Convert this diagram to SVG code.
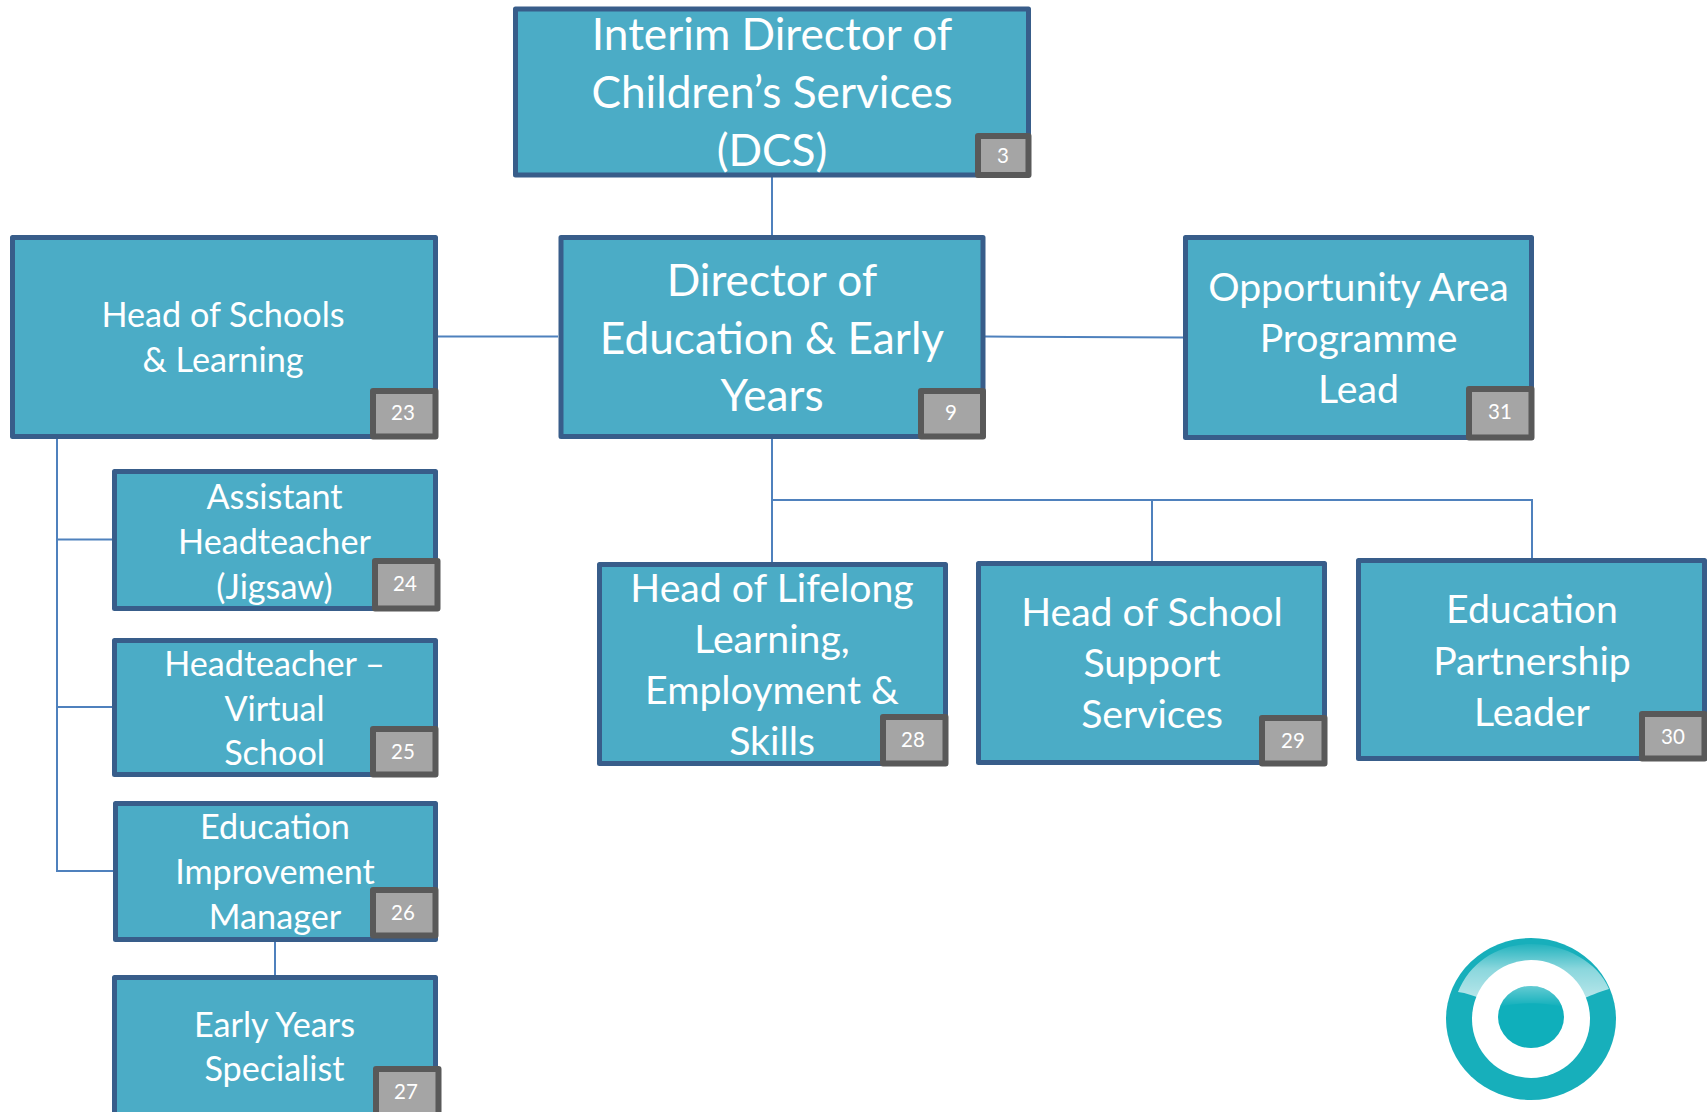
<svg xmlns="http://www.w3.org/2000/svg" width="1707" height="1112" viewBox="0 0 1707 1112">
<style>
.b{fill:#4bacc6;stroke:#385d8a;stroke-width:5;stroke-linejoin:round}
.g{fill:#a5a5a5;stroke:#595959;stroke-width:6;stroke-linejoin:round}
text{font-family:Lato,"Liberation Sans",sans-serif;fill:#fff;text-anchor:middle}
.xl{font-size:44.200px}.l{font-size:39.200px}.m{font-size:34.200px}.n{font-size:20.500px}
#connectors path{fill:none;stroke:#4f81bd;stroke-width:2}
</style>
<defs>
<linearGradient id="gloss" x1="0" y1="0" x2="0" y2="1"><stop offset="0" stop-color="#fff" stop-opacity=".05"/><stop offset=".45" stop-color="#fff" stop-opacity=".5"/><stop offset="1" stop-color="#fff" stop-opacity=".7"/></linearGradient>
<linearGradient id="gloss2" x1="0" y1="0" x2="0" y2="1"><stop offset="0" stop-color="#fff" stop-opacity=".35"/><stop offset="1" stop-color="#fff" stop-opacity="0"/></linearGradient>
</defs>
<rect width="1707" height="1112" fill="#fff"/>
<g id="connectors">
<path d="M772 177V235M772 439V562M772 500H1532V558M1152 500V561"/>
<path d="M438 336.500H558M985 336.500L1183 337.500"/>
<path d="M57 439V871H113M57 539.500H112M57 707H112M275 942V975"/>
</g>
<g id="n-dcs"><rect class="b" x="515.500" y="9" width="513" height="166"/>
<text class="xl" x="772" y="50">Interim Director of</text><text class="xl" x="772" y="108">Children’s Services</text><text class="xl" x="772" y="166">(DCS)</text>
<rect class="g" x="978" y="136" width="50.500" height="39"/><text class="n" x="1003" y="163">3</text></g>
<g id="n-director"><rect class="b" x="561" y="237.500" width="422" height="199"/>
<text class="xl" x="772" y="295.500">Director of</text><text class="xl" x="772" y="353.500">Education &amp; Early</text><text class="xl" x="772" y="410.500">Years</text>
<rect class="g" x="921" y="391" width="62" height="45.500"/><text class="n" x="951" y="420">9</text></g>
<g id="n-schools"><rect class="b" x="12.500" y="237.500" width="423" height="199"/>
<text class="m" x="223" y="327">Head of Schools</text><text class="m" x="223" y="372">&amp; Learning</text>
<rect class="g" x="373" y="391" width="62.500" height="45.500"/><text class="n" x="403" y="420">23</text></g>
<g id="n-opportunity"><rect class="b" x="1185.500" y="237.500" width="346" height="200"/>
<text class="l" x="1358.500" y="301">Opportunity Area</text><text class="l" x="1358.500" y="352">Programme</text><text class="l" x="1358.500" y="403">Lead</text>
<rect class="g" x="1469" y="389" width="62.500" height="48.500"/><text class="n" x="1500" y="419">31</text></g>
<g id="n-assistant"><rect class="b" x="114.500" y="471.500" width="321" height="137"/>
<text class="m" x="274.500" y="508.500">Assistant</text><text class="m" x="274.500" y="553.500">Headteacher</text><text class="m" x="274.500" y="598.500">(Jigsaw)</text>
<rect class="g" x="375" y="561" width="62.500" height="47.500"/><text class="n" x="405" y="591">24</text></g>
<g id="n-virtual"><rect class="b" x="114.500" y="640.500" width="321" height="134"/>
<text class="m" x="274.500" y="675.500">Headteacher –</text><text class="m" x="274.500" y="720.500">Virtual</text><text class="m" x="274.500" y="765">School</text>
<rect class="g" x="373" y="729" width="62.500" height="45.500"/><text class="n" x="403" y="759">25</text></g>
<g id="n-improvement"><rect class="b" x="115.500" y="803.500" width="320" height="136"/>
<text class="m" x="275" y="839">Education</text><text class="m" x="275" y="884">Improvement</text><text class="m" x="275" y="929">Manager</text>
<rect class="g" x="373" y="890" width="62.500" height="45.500"/><text class="n" x="403" y="920">26</text></g>
<g id="n-early"><rect class="b" x="114.500" y="977.500" width="321" height="150"/>
<text class="m" x="274.500" y="1037">Early Years</text><text class="m" x="274.500" y="1081">Specialist</text>
<rect class="g" x="376" y="1069" width="62.500" height="60"/><text class="n" x="406" y="1099">27</text></g>
<g id="n-lifelong"><rect class="b" x="599.500" y="564.500" width="346" height="199"/>
<text class="l" x="772" y="602">Head of Lifelong</text><text class="l" x="772" y="653">Learning,</text><text class="l" x="772" y="704">Employment &amp;</text><text class="l" x="772" y="755">Skills</text>
<rect class="g" x="883" y="717" width="62.500" height="46.500"/><text class="n" x="913" y="747">28</text></g>
<g id="n-support"><rect class="b" x="978.500" y="563.500" width="346" height="199"/>
<text class="l" x="1152" y="626">Head of School</text><text class="l" x="1152" y="677">Support</text><text class="l" x="1152" y="728">Services</text>
<rect class="g" x="1262" y="718" width="62.500" height="45.500"/><text class="n" x="1293" y="748">29</text></g>
<g id="n-partnership"><rect class="b" x="1358.500" y="560.500" width="346" height="198"/>
<text class="l" x="1532" y="623">Education</text><text class="l" x="1532" y="675">Partnership</text><text class="l" x="1532" y="726">Leader</text>
<rect class="g" x="1642" y="714" width="62.500" height="44.500"/><text class="n" x="1673" y="744">30</text></g>
<g id="logo">
<ellipse cx="1531" cy="1019" rx="85" ry="81" fill="#17afbb"/>
<path d="M1458 992C1470 962 1498 944 1531 944C1565 944 1598 962 1609 989C1598 992 1590 996 1580 1000L1485 1000C1475 996 1466 993 1458 992Z" fill="url(#gloss)"/>
<ellipse cx="1531" cy="1019" rx="59" ry="59" fill="#fff"/>
<ellipse cx="1531" cy="1017" rx="33" ry="31" fill="#0fafbb"/>
<path d="M1500 1007C1504 995 1516 986 1531 986C1546 986 1558 995 1562 1007C1545 1002 1517 1002 1500 1007Z" fill="url(#gloss2)"/>
</g>
</svg>
